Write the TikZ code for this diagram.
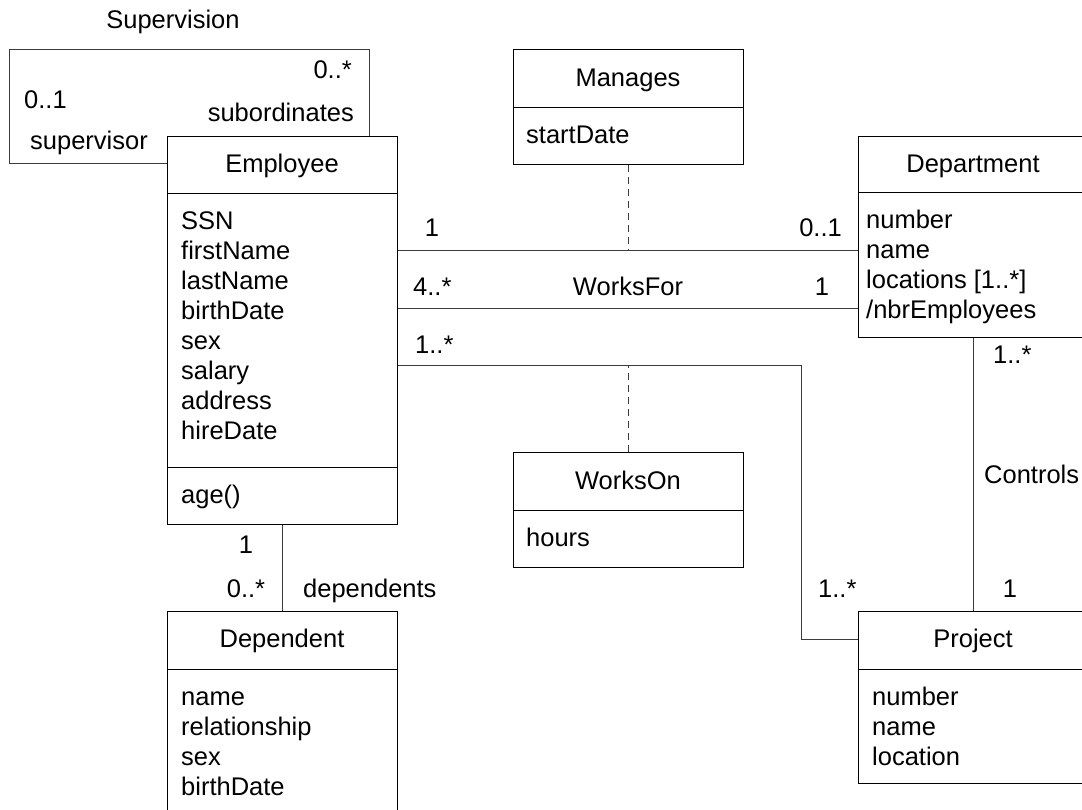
\documentclass[tikz,border=0pt]{standalone}
\usepackage{fontspec}
\setmainfont{Liberation Sans}
\begin{document}
\begin{tikzpicture}[x=1pt,y=-1pt,
  font=\fontsize{25.5}{30}\selectfont,
  cls/.style={draw=black, fill=white, line width=1pt, anchor=north west, inner sep=0pt, minimum width=230pt},
  conn/.style={draw={rgb,255:red,60;green,60;blue,60}, line width=1pt},
  dash line/.style={conn, dash pattern=on 7pt off 5pt},
  sep/.style={draw=black, line width=1pt},
  txt/.style={inner sep=0pt, anchor=base west},
  txtc/.style={inner sep=0pt, anchor=base},
  txte/.style={inner sep=0pt, anchor=base east}]
\useasboundingbox (0,0) rectangle (1082,809);
\clip (0,0) rectangle (1082,809);
\fill[white] (0,0) rectangle (1082,809);

% class boxes
\node[cls, minimum height=388pt] (emp) at (167,136) {};
\node[cls, minimum height=230pt] (dep) at (167,611) {};
\node[cls, minimum height=201pt] (dept) at (858,136) {};
\node[cls, minimum height=172pt] (proj) at (858,611) {};
\node[cls, minimum height=115pt] (man) at (513,49) {};
\node[cls, minimum height=115pt] (won) at (513,452) {};

% compartment separators
\draw[sep] (emp.west |- 0,193) -- (emp.east |- 0,193);
\draw[sep] (emp.west |- 0,467) -- (emp.east |- 0,467);
\draw[sep] (dep.west |- 0,669) -- (dep.east |- 0,669);
\draw[sep] (dept.west |- 0,192) -- (dept.east |- 0,192);
\draw[sep] (proj.west |- 0,669) -- (proj.east |- 0,669);
\draw[sep] (man.west |- 0,107) -- (man.east |- 0,107);
\draw[sep] (won.west |- 0,510) -- (won.east |- 0,510);

% connectors
\draw[conn] (emp.west |- 0,163) -| (9,49) -| (emp.north -| 369,0);
\draw[conn] (emp.east |- 0,250) -- (dept.west |- 0,250);
\draw[conn] (emp.east |- 0,308) -- (dept.west |- 0,308);
\draw[conn] (emp.east |- 0,365) -| (801,639) -- (proj.west |- 0,639);
\draw[dash line] (man.south) -- (man.south |- 0,250);
\draw[dash line] (won.north) -- (won.north |- 0,365);
\draw[conn] (dept.south) -- (proj.north);
\draw[conn] (emp.south) -- (dep.north);

% titles
\node[txtc] (tEmp) at (282,172) {Employee};
\node[txtc] (tDep) at (282,647) {Dependent};
\node[txtc] (tDept) at (973,172) {Department};
\node[txtc] (tProj) at (973,647) {Project};
\node[txtc] (tMan) at (628,86) {Manages};
\node[txtc] (tWon) at (628,489) {WorksOn};

% attributes
\node[txt] (a1) at (181,229) {SSN};
\node[txt] (a2) at (181,259) {firstName};
\node[txt] (a3) at (181,289) {lastName};
\node[txt] (a4) at (181,319) {birthDate};
\node[txt] (a5) at (181,349) {sex};
\node[txt] (a6) at (181,379) {salary};
\node[txt] (a7) at (181,409) {address};
\node[txt] (a8) at (181,439) {hireDate};
\node[txt] (a9) at (181,503) {age()};

\node[txt] (d1) at (181,705) {name};
\node[txt] (d2) at (181,735) {relationship};
\node[txt] (d3) at (181,765) {sex};
\node[txt] (d4) at (181,795) {birthDate};

\node[txt] (p1) at (866,228) {number};
\node[txt] (p2) at (866,258) {name};
\node[txt] (p3) at (866,288) {locations [1..*]};
\node[txt] (p4) at (866,318) {/nbrEmployees};

\node[txt] (q1) at (872,705) {number};
\node[txt] (q2) at (872,735) {name};
\node[txt] (q3) at (872,765) {location};

\node[txt] (m1) at (526,143) {startDate};
\node[txt] (w1) at (526,546) {hours};

% association labels
\node[txtc] (lSup) at (173,28) {Supervision};
\node[txte] (l1) at (352,78) {0..*};
\node[txt] (l2) at (24,108) {0..1};
\node[txte] (l3) at (354,121) {subordinates};
\node[txt] (l4) at (30,149) {supervisor};

\node[txtc] (l5) at (432,236) {1};
\node[txte] (l6) at (842,236) {0..1};
\node[txt] (l7) at (413,295) {4..*};
\node[txtc] (l8) at (628,295) {WorksFor};
\node[txtc] (l9) at (822,295) {1};
\node[txt] (l10) at (415,353) {1..*};

\node[txtc] (l11) at (246,553) {1};
\node[txtc] (l12) at (246,597) {0..*};
\node[txt] (l13) at (303,597) {dependents};

\node[txt] (l14) at (993,363) {1..*};
\node[txt] (l15) at (984,483) {Controls};
\node[txtc] (l16) at (1010,597) {1};
\node[txt] (l17) at (818,597) {1..*};
\end{tikzpicture}
\end{document}
